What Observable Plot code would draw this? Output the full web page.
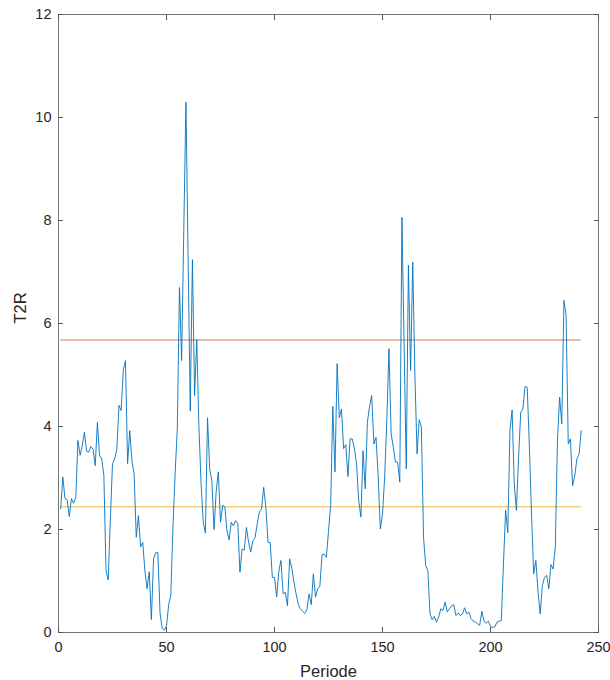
<!DOCTYPE html>
<html>
<head>
<meta charset="utf-8">
<script src="https://cdn.jsdelivr.net/npm/d3@7"></script>
<script src="https://cdn.jsdelivr.net/npm/@observablehq/plot@0.6"></script>
<style>
  html, body { margin: 0; padding: 0; background: #fff; }
  #chart { width: 610px; height: 680px; }
</style>
</head>
<body>
<div id="chart"></div>
<script>
// T2R values per period (period 1..242)
const t2r = [
  2.40,3.02,2.60,2.58,2.25,2.60,2.51,2.62,3.73,3.44,
  3.63,3.89,3.52,3.50,3.61,3.56,3.24,4.08,3.44,3.37,
  3.05,1.20,1.02,2.20,3.28,3.37,3.56,4.41,4.31,5.09,
  5.28,3.28,3.92,3.33,3.09,1.85,2.27,1.66,1.75,1.20,
  0.85,1.18,0.25,1.43,1.55,1.55,0.38,0.08,0.05,0.13,
  0.54,0.72,2.07,3.09,3.96,6.70,5.28,7.80,10.30,7.30,
  4.30,7.24,4.60,5.69,4.00,2.90,2.14,1.93,4.17,3.18,
  2.95,2.00,2.74,3.12,2.14,2.47,2.44,1.97,1.80,2.14,
  2.07,2.17,2.12,1.17,1.62,1.60,2.04,1.75,1.56,1.78,
  1.84,2.11,2.34,2.40,2.82,2.43,1.75,1.75,1.07,1.07,
  0.69,1.19,1.40,0.75,0.78,0.52,1.43,1.25,0.98,0.75,
  0.55,0.46,0.41,0.37,0.44,0.75,0.54,1.14,0.69,0.85,
  0.90,1.51,1.52,1.46,1.96,2.48,4.39,3.12,5.22,4.17,
  4.34,3.57,3.65,3.03,3.76,3.76,3.57,3.27,2.56,2.24,
  3.53,2.79,4.08,4.39,4.60,3.66,3.79,3.02,2.01,2.30,
  3.02,4.12,5.51,3.86,3.60,3.31,3.31,2.92,8.06,5.60,
  3.18,7.13,5.09,7.19,5.00,3.47,4.13,3.99,1.85,1.30,
  1.20,0.36,0.25,0.31,0.20,0.30,0.46,0.43,0.59,0.40,
  0.46,0.52,0.54,0.33,0.38,0.33,0.36,0.48,0.36,0.40,
  0.27,0.22,0.20,0.17,0.14,0.41,0.22,0.18,0.22,0.12,
  0.10,0.11,0.20,0.22,0.23,1.33,2.37,1.94,3.92,4.32,
  2.89,2.37,3.40,4.28,4.34,4.78,4.76,3.60,2.30,1.14,
  1.40,0.79,0.36,0.91,1.07,1.11,0.85,1.32,1.23,1.66,
  3.73,4.57,4.05,6.45,6.16,3.66,3.76,2.85,3.04,3.37,
  3.46,3.92
];
const periods = t2r.map((v, i) => i + 1);

// control limits
const upperLimit = 5.68;
const lowerLimit = 2.44;

// tick labels and axis titles
const xTicks = [0, 50, 100, 150, 200, 250];
const yTicks = [0, 2, 4, 6, 8, 10, 12];
const xTitle = "Periode";
const yTitle = "T2R";

const data = t2r.map((v, i) => ({ period: periods[i], value: v }));
const firstP = periods[0], lastP = periods[periods.length - 1];

const axisColor = "#262626";
const chart = Plot.plot({
  width: 610,
  height: 680,
  marginLeft: 58,
  marginRight: 12,
  marginTop: 14,
  marginBottom: 48,
  style: { fontFamily: "'Liberation Sans', Arial, Helvetica, sans-serif", fontSize: "14px", color: axisColor, background: "#fff" },
  x: { domain: [0, 250] },
  y: { domain: [0, 12] },
  marks: [
    Plot.frame({ stroke: "#555", strokeWidth: 0.8 }),
    Plot.axisX({ anchor: "bottom", ticks: xTicks, tickSize: -5, tickPadding: 14, stroke: "#555", label: null, fontSize: 14.5 }),
    Plot.axisX({ anchor: "top", ticks: xTicks, tickSize: -5, stroke: "#555", tickFormat: () => "", label: null }),
    Plot.axisY({ anchor: "left", ticks: yTicks, tickSize: -5, tickPadding: 12, stroke: "#555", label: null, fontSize: 14.5 }),
    Plot.axisY({ anchor: "right", ticks: yTicks, tickSize: -5, stroke: "#555", tickFormat: () => "", label: null }),
    Plot.text([xTitle], { frameAnchor: "bottom", dy: 44, lineAnchor: "bottom", fontSize: 16.5, fill: axisColor }),
    Plot.text([yTitle], { frameAnchor: "left", dx: -38, rotate: -90, lineAnchor: "middle", fontSize: 16.5, fill: axisColor }),
    Plot.ruleY([upperLimit], { x1: firstP, x2: lastP, stroke: "#D95319", strokeWidth: 1, strokeOpacity: 0.8 }),
    Plot.ruleY([lowerLimit], { x1: firstP, x2: lastP, stroke: "#EDB120", strokeWidth: 1, strokeOpacity: 0.9 }),
    Plot.line(data, { x: "period", y: "value", stroke: "#0072BD", strokeWidth: 0.9 })
  ]
});
document.getElementById("chart").appendChild(chart);
</script>
</body>
</html>
